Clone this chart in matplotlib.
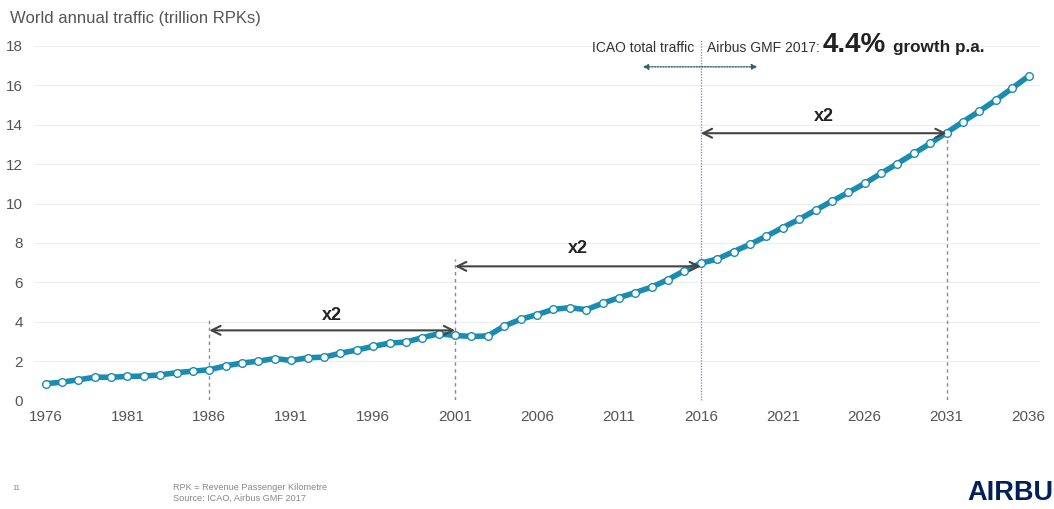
import matplotlib
matplotlib.use("Agg")
import matplotlib.pyplot as plt

plt.rcParams['font.family'] = ['Liberation Sans', 'DejaVu Sans']

# RPK history (ICAO) up to 2016, Airbus GMF 2017 forecast after
years = list(range(1976, 2037))
rpk = [0.85, 0.93, 1.05, 1.18, 1.18, 1.22, 1.24, 1.30, 1.41, 1.49,
       1.56, 1.76, 1.90, 2.00, 2.13, 2.03, 2.17, 2.20, 2.40, 2.56,
       2.75, 2.91, 2.97, 3.19, 3.39, 3.30, 3.25, 3.28, 3.78, 4.12,
       4.36, 4.63, 4.71, 4.61, 4.93, 5.22, 5.48, 5.76, 6.14, 6.59,
       6.97, 7.18, 7.56, 7.93, 8.34, 8.78, 9.20, 9.66, 10.12, 10.56,
       11.02, 11.53, 12.03, 12.54, 13.05, 13.60, 14.15, 14.69, 15.25, 15.85,
       16.47]

x_ticks = list(range(1976, 2037, 5))
y_ticks = list(range(0, 19, 2))

# doubling periods: (start year, end year, arrow height, label height)
doublings = [(1986, 2001, 3.56, 4.3),
             (2001, 2016, 6.81, 7.7),
             (2016, 2031, 13.57, 14.4)]
guide_tops = {1986: 4.17, 2001: 7.2, 2031: 13.57}

teal = '#1a8cb0'
txt_gray = '#555555'

fig = plt.figure(figsize=(10.54, 5.09), dpi=100)
ax = fig.add_axes([0.0323, 0.2132, 0.9544, 0.6965])

ax.plot(years, rpk, color=teal, lw=4.0, marker='o', ms=5.5,
        mfc='white', mec=teal, mew=1.0, zorder=4, solid_capstyle='round')

ax.set_xlim(1975.3, 2036.7)
ax.set_ylim(0, 18)
ax.set_xticks(x_ticks)
ax.set_yticks(y_ticks)
ax.tick_params(length=0, labelsize=11, labelcolor=txt_gray)
ax.tick_params(axis='x', pad=7)
ax.tick_params(axis='y', pad=8)
ax.grid(axis='y', color='#eeeeee', lw=0.8)
ax.set_axisbelow(True)
for s in ax.spines.values():
    s.set_visible(False)

# dashed guides at the doubling years
for yr, top in guide_tops.items():
    ax.plot([yr, yr], [0, top], color='#8a8a8a', lw=1.0, ls=(0, (2.5, 2.5)), zorder=2)

# history / forecast split
ax.plot([2016, 2016], [0, 18.3], color='#8796ad', lw=1.0, ls=(0, (1, 1)),
        zorder=2, clip_on=False)

for x0, x1, ya, yl in doublings:
    ax.annotate('', xy=(x0, ya), xytext=(x1, ya),
                arrowprops=dict(arrowstyle='<->', color='#444444', lw=1.5,
                                mutation_scale=16, shrinkA=0, shrinkB=0), zorder=5)
    ax.text((x0 + x1) / 2, yl, 'x2', ha='center', va='center',
            fontsize=13, fontweight='bold', color='#222222')

# header annotations
ax.text(2015.6, 17.9, 'ICAO total traffic', ha='right', va='center',
        fontsize=10, color='#333333', clip_on=False)
ax.text(2016.4, 17.9, 'Airbus GMF 2017:', ha='left', va='center',
        fontsize=10, color='#333333', clip_on=False)
ax.text(2023.45, 17.67, '4.4%', ha='left', va='baseline',
        fontsize=20, fontweight='bold', color='#222222', clip_on=False)
ax.text(2027.75, 17.67, 'growth p.a.', ha='left', va='baseline',
        fontsize=12.3, fontweight='bold', color='#222222', clip_on=False)
ax.annotate('', xy=(2012.45, 16.94), xytext=(2019.45, 16.94),
            arrowprops=dict(arrowstyle='<|-|>', color='#2c5f70', lw=1.0,
                            ls=(0, (1, 1)), mutation_scale=8,
                            shrinkA=0, shrinkB=0))

fig.text(10 / 1054, 1 - 18 / 509, 'World annual traffic (trillion RPKs)',
         ha='left', va='center', fontsize=12, color=txt_gray)

# footer
fig.text(12 / 1054, 1 - 488 / 509, '11', ha='left', va='center',
         fontsize=5.5, color='#888888')
fig.text(173 / 1054, 1 - 487 / 509, 'RPK = Revenue Passenger Kilometre',
         ha='left', va='center', fontsize=6.6, color='#888888')
fig.text(173 / 1054, 1 - 498 / 509, 'Source: ICAO, Airbus GMF 2017',
         ha='left', va='center', fontsize=6.6, color='#888888')
fig.text(1053 / 1054, 1 - 493 / 509, 'AIRBU', ha='right', va='center',
         fontsize=19.5, fontweight='bold', color='#00205b')

fig.savefig('out.png', dpi=100, facecolor='white')
